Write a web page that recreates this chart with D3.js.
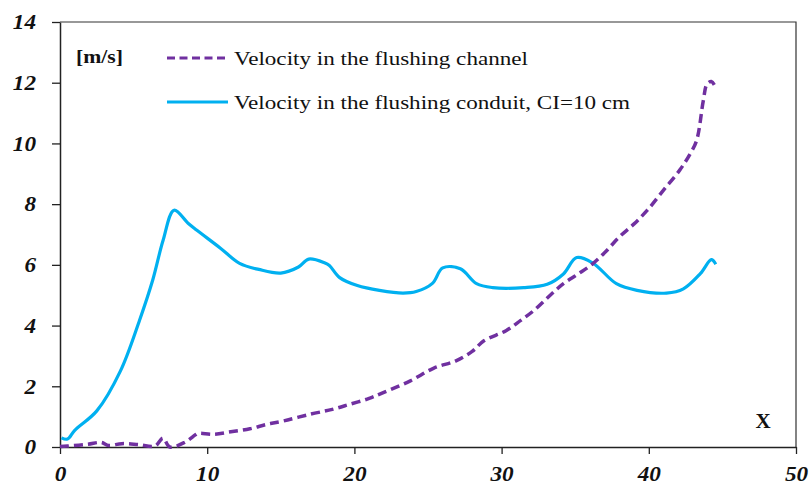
<!DOCTYPE html>
<html>
<head>
<meta charset="utf-8">
<script src="https://d3js.org/d3.v7.min.js"></script>
<style>
  body { margin: 0; background: white; }
  svg text { font-family: "Liberation Serif", "Times New Roman", serif; }
</style>
</head>
<body>
<script>
var w = 811;
var h = 488;

// velocity in the flushing channel (dashed)
var channelX = [0, 0.5, 1.9, 2.8, 3.3, 4.2, 5.3, 6.45, 7.0, 7.45, 8.5, 9.2, 9.4, 10.4, 11.6, 12.9, 14.0, 15.2, 17.0, 18.5, 19.7, 21.0, 22.0, 23.8, 25.4, 26.9, 28.0, 28.8, 30.3, 31.3, 32.2, 33.3, 34.2, 35.2, 36.2, 37.1, 38.0, 39.0, 39.9, 41.0, 42.1, 42.8, 43.25, 43.7, 43.95, 44.25, 44.45];
var channelV = [0.02, 0.03, 0.09, 0.15, 0.05, 0.11, 0.08, 0.03, 0.29, 0.0, 0.16, 0.4, 0.45, 0.42, 0.5, 0.6, 0.74, 0.86, 1.08, 1.24, 1.41, 1.6, 1.8, 2.18, 2.6, 2.84, 3.15, 3.5, 3.83, 4.17, 4.5, 5.0, 5.38, 5.7, 6.04, 6.45, 6.92, 7.35, 7.8, 8.46, 9.12, 9.65, 10.1, 11.4, 11.95, 12.04, 11.93];

// velocity in the flushing conduit, CI=10 cm (solid)
var conduitX = [0.1, 0.5, 1.0, 2.5, 4.1, 5.4, 6.3, 7.0, 7.75, 8.7, 9.3, 10.9, 12.2, 13.5, 15.0, 16.2, 16.9, 18.0, 18.3, 19.0, 20.2, 21.7, 23.3, 24.2, 25.3, 26.0, 27.2, 28.3, 29.4, 31.5, 33.1, 34.2, 35.1, 36.2, 37.8, 39.2, 41.2, 42.35, 43.5, 44.25, 44.55];
var conduitV = [0.3, 0.26, 0.55, 1.19, 2.5, 4.17, 5.5, 6.8, 7.8, 7.37, 7.14, 6.55, 6.05, 5.85, 5.73, 5.93, 6.19, 6.06, 5.98, 5.58, 5.32, 5.16, 5.07, 5.12, 5.39, 5.9, 5.87, 5.38, 5.25, 5.25, 5.36, 5.7, 6.24, 6.06, 5.38, 5.16, 5.07, 5.21, 5.71, 6.17, 6.02];

var xTicks = [0, 10, 20, 30, 40, 50];
var yTicks = [0, 2, 4, 6, 8, 10, 12, 14];

var legendLabels = ['Velocity in the flushing channel', 'Velocity in the flushing conduit, CI=10 cm'];

var margin = {left: 60, top: 22, right: 15, bottom: 41};
var iw = w - margin.left - margin.right;
var ih = h - margin.top - margin.bottom;

var svg = d3.select('body')
            .append('svg')
            .attr('width', w)
            .attr('height', h);

svg.append('rect')
   .attr('width', w)
   .attr('height', h)
   .attr('fill', 'white');

var g = svg.append('g')
           .attr('transform', 'translate(' + margin.left + ',' + margin.top + ')');

var x = d3.scaleLinear().domain([0, 50]).range([0, iw]);
var y = d3.scaleLinear().domain([0, 14]).range([ih, 0]);

// frame (top + right)
g.append('path')
 .attr('d', 'M0,0H' + iw + 'V' + ih)
 .attr('fill', 'none')
 .attr('stroke', '#333')
 .attr('stroke-width', 1.2);

var xAxis = g.append('g')
  .attr('transform', 'translate(0,' + ih + ')')
  .call(d3.axisBottom(x).tickValues(xTicks).tickSize(7).tickPadding(12).tickSizeOuter(0));

var yAxis = g.append('g')
  .call(d3.axisLeft(y).tickValues(yTicks).tickSize(8).tickPadding(16).tickSizeOuter(0));

// the original text is a bit wider than the font, so stretch it
[xAxis, yAxis].forEach(function(a){
    a.select('.domain').attr('stroke', '#222').attr('stroke-width', 1.5);
    a.selectAll('.tick line').attr('stroke', '#222').attr('stroke-width', 1.3);
    a.selectAll('.tick text')
     .attr('font-family', '"Liberation Serif", serif')
     .attr('font-size', 21)
     .attr('font-weight', 'bold')
     .attr('font-style', 'italic')
     .attr('fill', '#111')
     .attr('lengthAdjust', 'spacingAndGlyphs')
     .attr('textLength', function(d){ return String(d).length * 11.6; });
});

var channelLine = d3.line()
    .x(function(d, i){ return x(channelX[i]); })
    .y(function(d){ return y(d); })
    .curve(d3.curveCatmullRom);

var conduitLine = d3.line()
    .x(function(d, i){ return x(conduitX[i]); })
    .y(function(d){ return y(d); })
    .curve(d3.curveCatmullRom);

g.append('path')
 .datum(conduitV)
 .attr('d', conduitLine)
 .attr('fill', 'none')
 .attr('stroke', '#00B0F0')
 .attr('stroke-width', 3.2)
 .attr('stroke-linejoin', 'round');

g.append('path')
 .datum(channelV)
 .attr('d', channelLine)
 .attr('fill', 'none')
 .attr('stroke', '#7030A0')
 .attr('stroke-width', 3.5)
 .attr('stroke-dasharray', '9,5');

// unit label
svg.append('text')
   .attr('x', 76)
   .attr('y', 63)
   .attr('font-size', 18)
   .attr('font-weight', 'bold')
   .attr('fill', '#111')
   .attr('lengthAdjust', 'spacingAndGlyphs')
   .attr('textLength', 47)
   .text('[m/s]');

// legend
var legendWidths = [294, 396];
var leg = svg.selectAll('.leg')
  .data(legendLabels)
  .enter()
  .append('g')
  .attr('class', 'leg')
  .attr('transform', function(d, i){ return 'translate(167,' + (58 + i * 44) + ')'; });

leg.append('line')
   .attr('x1', 0).attr('x2', 61)
   .attr('stroke', function(d, i){ return i == 0 ? '#7030A0' : '#00B0F0'; })
   .attr('stroke-width', 3.2)
   .attr('stroke-dasharray', function(d, i){ return i == 0 ? '8,4.5' : null; });

leg.append('text')
   .attr('x', 67)
   .attr('y', 7)
   .attr('font-size', 19)
   .attr('fill', '#111')
   .attr('lengthAdjust', 'spacingAndGlyphs')
   .attr('textLength', function(d, i){ return legendWidths[i]; })
   .text(function(d){ return d; });

svg.append('text')
   .attr('x', 763)
   .attr('y', 428)
   .attr('text-anchor', 'middle')
   .attr('font-size', 21)
   .attr('font-weight', 'bold')
   .attr('fill', '#111')
   .text('X');
</script>
</body>
</html>
